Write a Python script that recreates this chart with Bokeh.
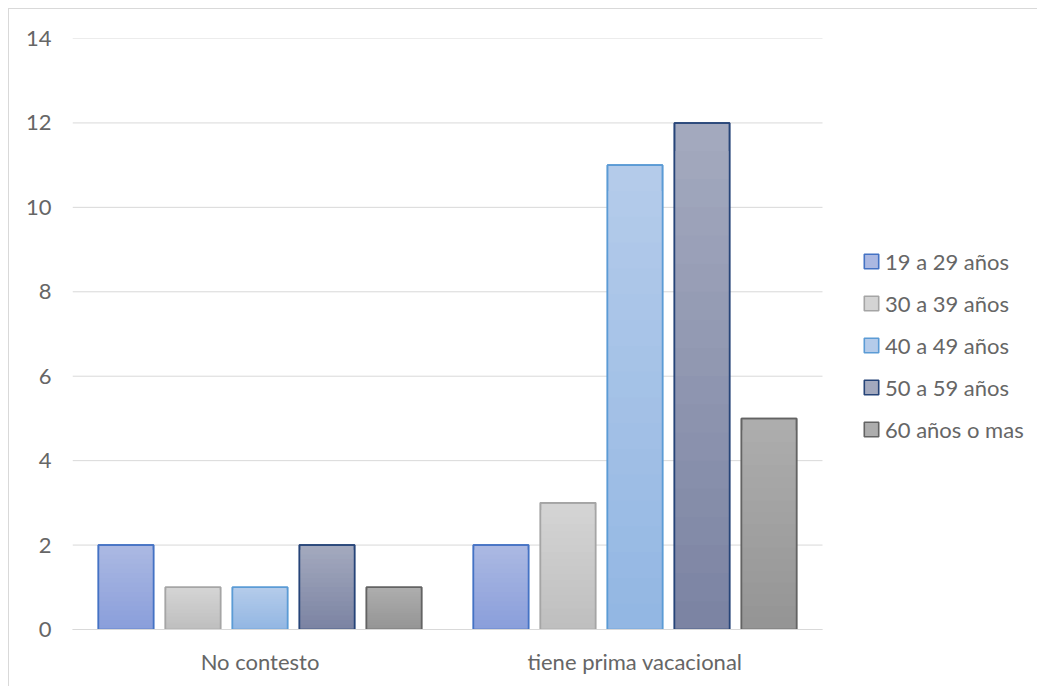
from bokeh.plotting import figure
from bokeh.models import (Legend, LegendItem, FixedTicker, ColumnDataSource, Range1d)
from bokeh.transform import dodge
from bokeh.embed import file_html
from bokeh.resources import INLINE

# ---- data ----
categories = ["No contesto", "tiene prima vacacional"]
series_names = ["19 a 29 años", "30 a 39 años", "40 a 49 años", "50 a 59 años", "60 años o mas"]
v_19_29 = [2, 2]
v_30_39 = [1, 3]
v_40_49 = [1, 11]
v_50_59 = [2, 12]
v_60_mas = [1, 5]
series_values = [v_19_29, v_30_39, v_40_49, v_50_59, v_60_mas]
y_ticks = [0, 2, 4, 6, 8, 10, 12, 14]

cat_pos = list(range(len(categories)))

# ---- styles ----
grad_top = ["#abb8e2", "#d4d4d4", "#b4cbea", "#a3a9be", "#adadad"]
grad_bot = ["#8a9fdb", "#bfbfbf", "#93b7e3", "#7c84a3", "#959595"]
line_cols = ["#4472c4", "#a5a5a5", "#5b9bd5", "#264478", "#636363"]
FONT = "Lato"
TXT = "#666666"
GRID = "#d9d9d9"

def hx(c):
    c = c.lstrip("#")
    return [int(c[i:i + 2], 16) for i in (0, 2, 4)]

def mix(a, b, t):
    A, B = hx(a), hx(b)
    return "#%02x%02x%02x" % tuple(round(A[i] + (B[i] - A[i]) * t) for i in range(3))

x_lo = -0.5
x_hi = len(categories) - 0.5
# frame continues to the figure's right edge so the legend is not clipped
x_end = x_lo + (x_hi - x_lo) * (1029 - 63) / 750.0

p = figure(width=1029, height=678, output_backend="svg", toolbar_location=None,
           x_range=Range1d(x_lo, x_end), y_range=Range1d(0, 14),
           min_border_left=63, min_border_right=0, min_border_top=29, min_border_bottom=58)
p.styles = {"border-top": "1px solid #d9d9d9", "border-left": "1px solid #d9d9d9",
            "margin-top": "8px", "margin-left": "8px"}
p.outline_line_color = None
p.background_fill_color = "white"
p.border_fill_color = "white"
p.xgrid.grid_line_color = None
p.ygrid.grid_line_color = None

# horizontal gridlines limited to the category area
p.segment(x0=[x_lo] * len(y_ticks), x1=[x_hi] * len(y_ticks), y0=y_ticks, y1=y_ticks,
          line_color=GRID, line_width=1)

step = 0.1787
bw = 0.147
N = 18
legend_items = []
for i, (name, vals) in enumerate(zip(series_names, series_values)):
    off = (i - 2) * step
    first = None
    for k in range(N):
        frac = (N - k) / N
        col = mix(grad_top[i], grad_bot[i], k / (N - 1))
        src = ColumnDataSource(dict(x=cat_pos, top=[v * frac for v in vals]))
        r = p.vbar(x=dodge("x", off), top="top", width=bw, source=src,
                   fill_color=col, line_color=line_cols[i] if k == 0 else None,
                   line_width=1.6)
        if k == 0:
            first = r
    src = ColumnDataSource(dict(x=cat_pos, top=vals))
    p.vbar(x=dodge("x", off), top="top", width=bw, source=src,
           fill_color=None, line_color=line_cols[i], line_width=1.6)
    legend_items.append(LegendItem(label=name, renderers=[first]))

legend = Legend(items=legend_items, location=(790, 185), padding=0, margin=0,
                border_line_color=None, background_fill_alpha=0,
                glyph_width=18, glyph_height=18, label_height=30, spacing=12,
                label_standoff=5, label_text_font=FONT, label_text_font_size="22px",
                label_text_color=TXT)
p.add_layout(legend, "center")

p.yaxis.ticker = FixedTicker(ticks=y_ticks)
p.yaxis.axis_line_color = None
p.yaxis.major_tick_line_color = None
p.yaxis.minor_tick_line_color = None
p.yaxis.major_label_standoff = 15
p.yaxis.major_label_text_font = FONT
p.yaxis.major_label_text_font_size = "22px"
p.yaxis.major_label_text_color = TXT

p.xaxis.ticker = FixedTicker(ticks=cat_pos)
p.xaxis.major_label_overrides = {pos: name for pos, name in zip(cat_pos, categories)}
p.xaxis.bounds = (x_lo, x_hi)
p.xaxis.axis_line_color = GRID
p.xaxis.axis_line_width = 1
p.xaxis.major_tick_line_color = None
p.xaxis.minor_tick_line_color = None
p.xaxis.major_label_standoff = 12
p.xaxis.major_label_text_font = FONT
p.xaxis.major_label_text_font_size = "22px"
p.xaxis.major_label_text_color = TXT

open("out.html", "w").write(file_html(p, INLINE))
